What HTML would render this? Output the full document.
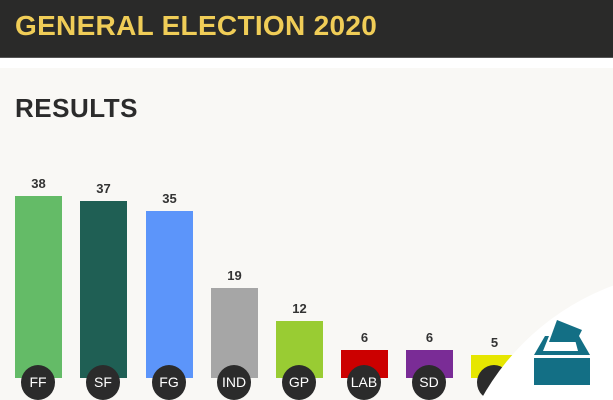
<!DOCTYPE html>
<html style="overflow:hidden;width:613px;height:400px"><head><style>
html,body{margin:0;padding:0}
body{width:613px;height:400px;overflow:hidden;background:#f9f8f5;font-family:"Liberation Sans",sans-serif}
#w{position:relative;width:613px;height:400px;overflow:hidden;background:#f9f8f5}
.hdr{position:absolute;left:0;top:0;width:613px;height:57px;background:#2a2a29;border-bottom:1px solid #555}
.hdr span{position:absolute;left:15px;top:10px;color:#f0cd57;font-weight:bold;font-size:28px;letter-spacing:0.3px}
.wb{position:absolute;left:0;top:58px;width:613px;height:10px;background:#fff}
.res{position:absolute;left:15px;top:93px;font-size:26px;font-weight:bold;color:#2b2b2b;letter-spacing:0.5px}
.bar{position:absolute;width:47px}
.v{position:absolute;width:47px;text-align:center;font-size:13px;font-weight:bold;color:#333}
.c{position:absolute;width:34px;height:34px;border-radius:50%;background:#2b2b2b;color:#fff;font-size:14px;text-align:center;line-height:34px;top:365px;overflow:hidden}
</style></head><body><div id="w">
<div class="hdr"><span>GENERAL ELECTION 2020</span></div>
<div class="wb"></div>
<div class="res">RESULTS</div>

<div class="bar" style="left:15px;top:196px;height:182px;background:#64bb67"></div><div class="v" style="left:15px;top:176px">38</div>
<div class="bar" style="left:80px;top:201px;height:177px;background:#1f5f54"></div><div class="v" style="left:80px;top:181px">37</div>
<div class="bar" style="left:146px;top:211px;height:167px;background:#5c95fa"></div><div class="v" style="left:146px;top:191px">35</div>
<div class="bar" style="left:211px;top:288px;height:90px;background:#a6a6a6"></div><div class="v" style="left:211px;top:268px">19</div>
<div class="bar" style="left:276px;top:321px;height:57px;background:#99cc33"></div><div class="v" style="left:276px;top:301px">12</div>
<div class="bar" style="left:341px;top:350px;height:28px;background:#cc0000"></div><div class="v" style="left:341px;top:330px">6</div>
<div class="bar" style="left:406px;top:350px;height:28px;background:#7a2c96"></div><div class="v" style="left:406px;top:330px">6</div>
<div class="bar" style="left:471px;top:355px;height:23px;background:#e6e600"></div><div class="v" style="left:471px;top:335px">5</div>

<div class="c" style="left:21px;height:35px">FF</div>
<div class="c" style="left:86px;height:35px">SF</div>
<div class="c" style="left:152px;height:35px">FG</div>
<div class="c" style="left:217px;height:35px">IND</div>
<div class="c" style="left:282px;height:35px">GP</div>
<div class="c" style="left:347px;height:35px">LAB</div>
<div class="c" style="left:412px;height:35px">SD</div>
<div class="c" style="left:477px;height:35px"></div>

<svg style="position:absolute;left:0;top:0" width="613" height="400">
<circle cx="700" cy="520" r="250" fill="#fff"/>
<polygon points="549,342 557,320 582,330 576,342" fill="#136f85"/>
<polygon points="534,355 545,336 549,336 543,351 578,351 574,336 579,336 590,355" fill="#136f85"/>
<rect x="534" y="358" width="56" height="27" fill="#136f85"/>
</svg>
</div></body></html>
